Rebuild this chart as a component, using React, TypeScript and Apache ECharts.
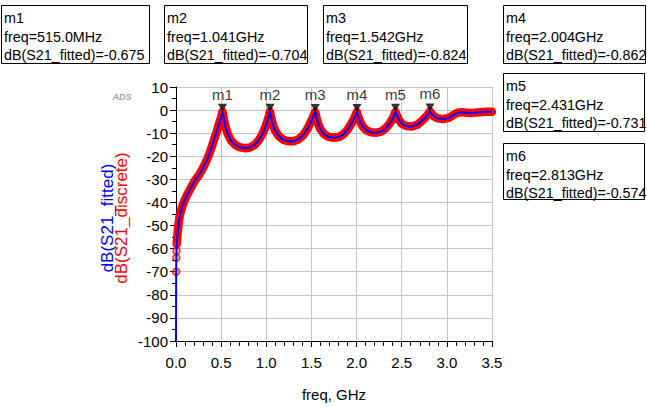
import React, { useEffect, useRef } from "react";
import * as echarts from "echarts";

const freqGHz = [
  0.002, 0.004, 0.006, 0.009, 0.013, 0.018, 0.026, 0.04, 0.063, 0.09, 0.12, 0.16, 0.21, 0.26, 0.3, 0.34, 0.38, 0.42, 0.45, 0.48, 0.5, 0.515,
  0.53, 0.55, 0.575, 0.61, 0.65, 0.7, 0.76, 0.82, 0.87, 0.92, 0.96, 0.99, 1.015, 1.03, 1.041,
  1.055, 1.075, 1.1, 1.14, 1.19, 1.25, 1.3, 1.36, 1.41, 1.45, 1.485, 1.515, 1.542,
  1.555, 1.575, 1.6, 1.64, 1.69, 1.75, 1.81, 1.86, 1.9, 1.94, 1.975, 2.004,
  2.018, 2.04, 2.07, 2.11, 2.16, 2.22, 2.28, 2.33, 2.37, 2.405, 2.431,
  2.445, 2.47, 2.5, 2.55, 2.61, 2.67, 2.72, 2.76, 2.79, 2.813,
  2.83, 2.86, 2.9, 2.96, 3.02, 3.07, 3.12, 3.17, 3.22, 3.27, 3.33, 3.4, 3.45, 3.5,
];
const s21DiscreteDb = [
  -70, -64, -61, -58, -55.5, -53, -50, -46, -42.5, -39.5, -37, -34, -30.5, -27.8, -25, -21.8, -17.8, -13, -9.5, -5.5, -3, -0.675,
  -4.0, -7.5, -10.5, -13.2, -14.9, -16.0, -16.5, -16.2, -15.1, -12.9, -10.2, -7.3, -4.3, -2.5, -0.704,
  -3.5, -6.5, -9.0, -11.4, -12.9, -13.5, -13.5, -12.6, -10.8, -8.5, -5.8, -3.2, -0.824,
  -3.2, -6.0, -8.3, -10.4, -11.6, -12.0, -11.6, -10.3, -8.5, -6.0, -3.4, -0.862,
  -2.8, -5.0, -7.2, -8.8, -9.6, -9.8, -9.2, -7.6, -5.6, -3.3, -0.731,
  -2.3, -4.3, -5.9, -6.9, -7.1, -6.4, -4.8, -3.2, -1.9, -0.574,
  -1.6, -2.8, -3.6, -3.9, -3.4, -2.2, -1.1, -0.9, -1.2, -1.3, -1.0, -0.8, -0.7, -0.7,
];
// fitted curve starts at DC, off the bottom of the scale
const fittedLeadFreq = [0];
const fittedLeadDb = [-100];

const markerNames = ["m1", "m2", "m3", "m4", "m5", "m6"];
const markerFreqGHz = [0.515, 1.041, 1.542, 2.004, 2.431, 2.813];
const markerFreqText = ["515.0MHz", "1.041GHz", "1.542GHz", "2.004GHz", "2.431GHz", "2.813GHz"];
const markerDbText = ["-0.675", "-0.704", "-0.824", "-0.862", "-0.731", "-0.574"];
const markerDb = [-0.675, -0.704, -0.824, -0.862, -0.731, -0.574];

const FONT = "'Liberation Sans', Arial, sans-serif";

const boxLayout = [
  { x: 1, y: 5, w: 148, h: 58 },
  { x: 164, y: 5, w: 143, h: 58 },
  { x: 323, y: 5, w: 144, h: 58 },
  { x: 503, y: 5, w: 142, h: 58 },
  { x: 503, y: 73, w: 141, h: 58 },
  { x: 503, y: 143, w: 141, h: 56 },
];

export default function App() {
  const ref = useRef<HTMLDivElement>(null);

  useEffect(() => {
    document.body.style.margin = "0";
    if (!ref.current) return;
    const chart = echarts.init(ref.current, undefined, { renderer: "svg" });

    const discrete = freqGHz.map((f, i) => [f, s21DiscreteDb[i]]);
    const fitted = fittedLeadFreq.map((f, i) => [f, fittedLeadDb[i]]).concat(discrete);
    const discreteDots = discrete.slice(0, 4);
    const discreteBand = discrete.slice(3);
    const markers = markerFreqGHz.map((f, i) => ({ name: markerNames[i], value: [f, markerDb[i]] }));

    const graphics: any[] = [];
    boxLayout.forEach((b, i) => {
      graphics.push({
        type: "rect",
        shape: { x: b.x + 0.5, y: b.y + 0.5, width: b.w, height: b.h },
        style: { fill: "#fff", stroke: "#000", lineWidth: 1 },
        z: 10,
      });
      const lines = [markerNames[i], "freq=" + markerFreqText[i], "dB(S21_fitted)=" + markerDbText[i]];
      lines.forEach((t, j) => {
        graphics.push({
          type: "text",
          x: b.x + 3,
          y: b.y + 13 + j * 18.5,
          scaleX: 0.955,
          z: 11,
          style: { text: t, fill: "#000", font: `15px ${FONT}`, textAlign: "left", textVerticalAlign: "middle" },
        });
      });
    });
    graphics.push({
      type: "text",
      x: 107,
      y: 218,
      rotation: Math.PI / 2,
      style: { text: "dB(S21_fitted)", fill: "#0000ff", font: `17px ${FONT}`, textAlign: "center", textVerticalAlign: "middle" },
    });
    graphics.push({
      type: "text",
      x: 121,
      y: 218,
      rotation: Math.PI / 2,
      style: { text: "dB(S21_discrete)", fill: "#ff0000", font: `17px ${FONT}`, textAlign: "center", textVerticalAlign: "middle" },
    });
    graphics.push({
      type: "text",
      x: 122,
      y: 97,
      style: {
        text: "ADS",
        fill: "#a0a0a0",
        font: `italic bold 9px ${FONT}`,
        textAlign: "center",
        textVerticalAlign: "middle",
        textShadowColor: "#d8d8d8",
        textShadowOffsetX: 1,
        textShadowOffsetY: 1,
      },
    });

    chart.setOption({
      animation: false,
      backgroundColor: "#fff",
      grid: { left: 176, top: 87, width: 316, height: 256, containLabel: false },
      xAxis: {
        type: "value",
        min: 0,
        max: 3.5,
        interval: 0.5,
        name: "freq, GHz",
        nameLocation: "middle",
        nameGap: 46,
        nameTextStyle: { fontFamily: FONT, fontSize: 15, color: "#000" },
        axisLine: { show: true, onZero: false, lineStyle: { color: "#000", width: 1 } },
        axisTick: { show: true, length: 6, lineStyle: { color: "#000" } },
        minorTick: { show: true, splitNumber: 5, length: 5, lineStyle: { color: "#000" } },
        axisLabel: {
          fontFamily: FONT,
          fontSize: 15,
          color: "#000",
          margin: 14,
          formatter: (v: number) => v.toFixed(1),
        },
        splitLine: { show: true, lineStyle: { color: "#c4c4c4", width: 1 } },
      },
      yAxis: {
        type: "value",
        min: -100,
        max: 10,
        interval: 10,
        axisLine: { show: true, onZero: false, lineStyle: { color: "#000", width: 1 } },
        axisTick: { show: true, length: 6, lineStyle: { color: "#000" } },
        minorTick: { show: true, splitNumber: 2, length: 4, lineStyle: { color: "#000" } },
        axisLabel: { fontFamily: FONT, fontSize: 15, color: "#000", margin: 8 },
        splitLine: { show: true, lineStyle: { color: "#c4c4c4", width: 1 } },
      },
      series: [
        {
          name: "dB(S21_discrete) band",
          type: "line",
          data: discreteBand,
          showSymbol: false,
          clip: false,
          lineStyle: { color: "#ff0000", width: 8.5, cap: "round", join: "round" },
          z: 2,
        },
        {
          name: "dB(S21_discrete)",
          type: "scatter",
          data: discreteDots,
          symbol: "circle",
          symbolSize: 7,
          clip: false,
          itemStyle: { color: "rgba(255,90,90,0.55)", borderColor: "#ff0000", borderWidth: 1.5 },
          z: 3,
        },
        {
          name: "dB(S21_fitted)",
          type: "line",
          data: fitted,
          showSymbol: false,
          clip: false,
          lineStyle: { color: "#0000ff", width: 2, join: "round" },
          z: 4,
        },
        {
          name: "markers",
          type: "scatter",
          data: markers,
          symbol: "path://M0,0L10,0L5,9Z",
          symbolSize: [9, 8],
          symbolOffset: [0, -4],
          clip: false,
          itemStyle: { color: "#000" },
          label: {
            show: true,
            position: "top",
            distance: 2,
            formatter: (p: any) => p.name,
            fontFamily: FONT,
            fontSize: 15,
            color: "#000",
          },
          z: 5,
        },
      ],
      graphic: graphics,
    });

    return () => chart.dispose();
  }, []);

  return <div ref={ref} style={{ width: 647, height: 407 }} />;
}
